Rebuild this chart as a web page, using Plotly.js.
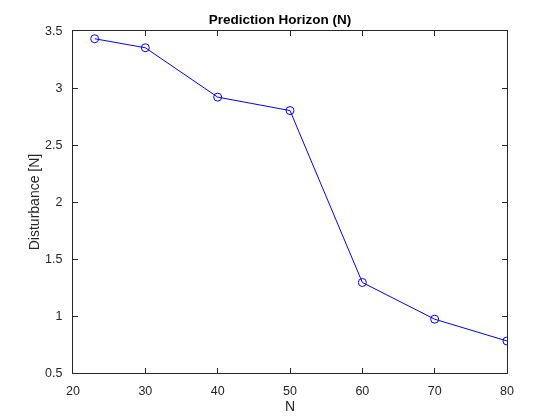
<!DOCTYPE html>
<html><head><meta charset="utf-8">
<script src="https://cdn.plot.ly/plotly-3.0.1.min.js"></script>
<style>html,body{margin:0;padding:0;background:#fff}#c{width:560px;height:420px}</style>
</head><body><div id="c"></div>
<script>
const horizonN = [23, 30, 40, 50, 60, 70, 80];
const disturbance = [3.432, 3.353, 2.920, 2.802, 1.294, 0.972, 0.781];
const xTicks = [20, 30, 40, 50, 60, 70, 80];
const yTicks = [0.5, 1, 1.5, 2, 2.5, 3, 3.5];
const xRange = [20, 80];
const yRange = [0.5, 3.5];

const font = 'Liberation Sans, Arial, Helvetica, sans-serif';
const labelAxis = {
  showgrid: false, zeroline: false, showline: true, mirror: true,
  linecolor: '#262626', linewidth: 1, ticks: 'outside', tickwidth: 1,
  tickcolor: 'rgba(0,0,0,0)', tickfont: {family: font, size: 12.5, color: '#262626'}
};
const tickAxis = {
  showgrid: false, zeroline: false, showline: false, showticklabels: false,
  ticks: 'inside', ticklen: 5, tickwidth: 1, tickcolor: '#262626', mirror: 'ticks'
};
Plotly.newPlot('c', [{
  x: horizonN, y: disturbance, type: 'scatter', mode: 'lines+markers',
  line: {color: '#0000ff', width: 1},
  marker: {symbol: 'circle-open', size: 8, color: '#0000ff', line: {width: 1, color: '#0000ff'}}
}, {
  // carrier for the inside-tick overlay axes (not visible)
  x: horizonN, y: disturbance, type: 'scatter', mode: 'markers',
  xaxis: 'x2', yaxis: 'y2', opacity: 0, hoverinfo: 'skip',
  marker: {size: 1, color: 'rgba(0,0,0,0)'}
}], {
  width: 560, height: 420,
  margin: {l: 73, r: 53, t: 31, b: 47},
  paper_bgcolor: '#ffffff', plot_bgcolor: '#ffffff',
  showlegend: false,
  title: {text: '<b>Prediction Horizon (N)</b>', font: {family: font, size: 13.5, color: '#000'}, x: 0.5, xanchor: 'center', y: 0.955, yanchor: 'middle'},
  xaxis: Object.assign({}, labelAxis, {range: xRange, tickvals: xTicks, ticktext: xTicks.map(String), ticklen: 6,
    title: {text: 'N', font: {family: font, size: 14, color: '#262626'}, standoff: 2}}),
  yaxis: Object.assign({}, labelAxis, {range: yRange, tickvals: yTicks, ticktext: yTicks.map(String), ticklen: 7,
    title: {text: 'Disturbance [N]', font: {family: font, size: 14, color: '#262626'}, standoff: 2}}),
  xaxis2: Object.assign({}, tickAxis, {range: xRange, tickvals: xTicks, overlaying: 'x', anchor: 'y2'}),
  yaxis2: Object.assign({}, tickAxis, {range: yRange, tickvals: yTicks, overlaying: 'y', anchor: 'x2'})
}, {displayModeBar: false, staticPlot: true});
</script></body></html>
